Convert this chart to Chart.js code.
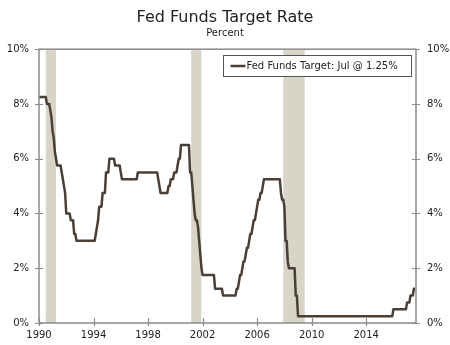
<!DOCTYPE html>
<html>
<head>
<meta charset="utf-8">
<script src="https://cdn.jsdelivr.net/npm/chart.js@4.4.1/dist/chart.umd.min.js"></script>
<style>
  html, body { margin: 0; padding: 0; background: #ffffff; }
  #wrap { width: 450px; height: 345px; }
</style>
</head>
<body>
<div id="wrap"><canvas id="c" width="450" height="345"></canvas></div>
<script>
// ---- Data ----
const seriesLabel = 'Fed Funds Target: Jul @ 1.25%';
// month-end target rate (percent), one value per month starting at firstMonth
const firstMonth = '1989-12';
const monthlyRates = [
  8.25,                                                                   // 1989 Dec
  8.25, 8.25, 8.25, 8.25, 8.25, 8.25, 8.00, 8.00, 8.00, 7.75, 7.50, 7.00, // 1990
  6.75, 6.25, 6.00, 5.75, 5.75, 5.75, 5.75, 5.50, 5.25, 5.00, 4.75, 4.00, // 1991
  4.00, 4.00, 4.00, 3.75, 3.75, 3.75, 3.25, 3.25, 3.00, 3.00, 3.00, 3.00, // 1992
  3.00, 3.00, 3.00, 3.00, 3.00, 3.00, 3.00, 3.00, 3.00, 3.00, 3.00, 3.00, // 1993
  3.00, 3.25, 3.50, 3.75, 4.25, 4.25, 4.25, 4.75, 4.75, 4.75, 5.50, 5.50, // 1994
  5.50, 6.00, 6.00, 6.00, 6.00, 6.00, 5.75, 5.75, 5.75, 5.75, 5.75, 5.50, // 1995
  5.25, 5.25, 5.25, 5.25, 5.25, 5.25, 5.25, 5.25, 5.25, 5.25, 5.25, 5.25, // 1996
  5.25, 5.25, 5.50, 5.50, 5.50, 5.50, 5.50, 5.50, 5.50, 5.50, 5.50, 5.50, // 1997
  5.50, 5.50, 5.50, 5.50, 5.50, 5.50, 5.50, 5.50, 5.25, 5.00, 4.75, 4.75, // 1998
  4.75, 4.75, 4.75, 4.75, 4.75, 5.00, 5.00, 5.25, 5.25, 5.25, 5.50, 5.50, // 1999
  5.50, 5.75, 6.00, 6.00, 6.50, 6.50, 6.50, 6.50, 6.50, 6.50, 6.50, 6.50, // 2000
  5.50, 5.50, 5.00, 4.50, 4.00, 3.75, 3.75, 3.50, 3.00, 2.50, 2.00, 1.75, // 2001
  1.75, 1.75, 1.75, 1.75, 1.75, 1.75, 1.75, 1.75, 1.75, 1.75, 1.25, 1.25, // 2002
  1.25, 1.25, 1.25, 1.25, 1.25, 1.00, 1.00, 1.00, 1.00, 1.00, 1.00, 1.00, // 2003
  1.00, 1.00, 1.00, 1.00, 1.00, 1.25, 1.25, 1.50, 1.75, 1.75, 2.00, 2.25, // 2004
  2.25, 2.50, 2.75, 2.75, 3.00, 3.25, 3.25, 3.50, 3.75, 3.75, 4.00, 4.25, // 2005
  4.50, 4.50, 4.75, 4.75, 5.00, 5.25, 5.25, 5.25, 5.25, 5.25, 5.25, 5.25, // 2006
  5.25, 5.25, 5.25, 5.25, 5.25, 5.25, 5.25, 5.25, 4.75, 4.50, 4.50, 4.25, // 2007
  3.00, 3.00, 2.25, 2.00, 2.00, 2.00, 2.00, 2.00, 2.00, 1.00, 1.00, 0.25, // 2008
  0.25, 0.25, 0.25, 0.25, 0.25, 0.25, 0.25, 0.25, 0.25, 0.25, 0.25, 0.25, // 2009
  0.25, 0.25, 0.25, 0.25, 0.25, 0.25, 0.25, 0.25, 0.25, 0.25, 0.25, 0.25, // 2010
  0.25, 0.25, 0.25, 0.25, 0.25, 0.25, 0.25, 0.25, 0.25, 0.25, 0.25, 0.25, // 2011
  0.25, 0.25, 0.25, 0.25, 0.25, 0.25, 0.25, 0.25, 0.25, 0.25, 0.25, 0.25, // 2012
  0.25, 0.25, 0.25, 0.25, 0.25, 0.25, 0.25, 0.25, 0.25, 0.25, 0.25, 0.25, // 2013
  0.25, 0.25, 0.25, 0.25, 0.25, 0.25, 0.25, 0.25, 0.25, 0.25, 0.25, 0.25, // 2014
  0.25, 0.25, 0.25, 0.25, 0.25, 0.25, 0.25, 0.25, 0.25, 0.25, 0.25, 0.50, // 2015
  0.50, 0.50, 0.50, 0.50, 0.50, 0.50, 0.50, 0.50, 0.50, 0.50, 0.50, 0.75, // 2016
  0.75, 0.75, 1.00, 1.00, 1.00, 1.25, 1.25                                // 2017 Jan-Jul
];
const recessionStarts = ['1990-07-01', '2001-03-01', '2007-12-01'];
const recessionEnds   = ['1991-03-31', '2001-11-30', '2009-06-30'];
const yTickValues = [0, 2, 4, 6, 8, 10];
const xTickYears = [1990, 1994, 1998, 2002, 2006, 2010, 2014];
const xRange = ['1990-01-01', '2017-08-28'];

// ---- helpers ----
function toYear(s) {
  const [y, m, d] = s.split('-').map(Number);
  const start = Date.UTC(y, 0, 1), next = Date.UTC(y + 1, 0, 1);
  return y + (Date.UTC(y, m - 1, d) - start) / (next - start);
}
// month-end position (in fractional years) of the i-th month after firstMonth
function monthEnd(i) {
  const [y0, m0] = firstMonth.split('-').map(Number);
  const total = y0 * 12 + (m0 - 1) + i + 1;  // first day of following month
  return Math.floor(total / 12) + (total % 12) / 12;
}
const points = monthlyRates.map((v, i) => ({ x: monthEnd(i), y: v }));

const FONT = "'DejaVu Sans', Verdana, sans-serif";
const LINE_COLOR = '#4a3f36';
const FRAME_COLOR = '#8a8a8a';
const BAND_COLOR = '#d8d4c8';
const TEXT_COLOR = '#222222';

const recessionPlugin = {
  id: 'recessions',
  beforeDatasetsDraw(chart) {
    const { ctx, chartArea: a, scales: { x } } = chart;
    ctx.save();
    ctx.fillStyle = BAND_COLOR;
    recessionStarts.forEach((s, i) => {
      const x0 = x.getPixelForValue(toYear(s));
      const x1 = x.getPixelForValue(toYear(recessionEnds[i]));
      ctx.fillRect(x0, a.top + 1, x1 - x0, a.bottom - a.top - 1);
    });
    ctx.restore();
  }
};

const framePlugin = {
  id: 'frame',
  afterDatasetsDraw(chart) {
    const { ctx, chartArea: a, scales: { x, y } } = chart;
    ctx.save();
    ctx.strokeStyle = FRAME_COLOR;
    ctx.lineWidth = 1.5;
    ctx.strokeRect(a.left, a.top, a.right - a.left, a.bottom - a.top);
    ctx.lineWidth = 1.2;
    ctx.beginPath();
    yTickValues.forEach(v => {
      const py = Math.round(y.getPixelForValue(v)) + 0.5;
      ctx.moveTo(a.left - 4, py); ctx.lineTo(a.left + 4, py);
      ctx.moveTo(a.right - 4, py); ctx.lineTo(a.right + 4, py);
    });
    xTickYears.forEach(v => {
      const px = Math.round(x.getPixelForValue(v)) + 0.5;
      ctx.moveTo(px, a.bottom - 5); ctx.lineTo(px, a.bottom + 3);
    });
    ctx.stroke();

    // legend box
    const bw = 188, bh = 21;
    const bx = Math.round(a.right - 5 - bw) + 0.5;
    const by = Math.round(a.top + 6) + 0.5;
    ctx.fillStyle = '#ffffff';
    ctx.fillRect(bx, by, bw, bh);
    ctx.strokeStyle = '#555555';
    ctx.lineWidth = 1;
    ctx.strokeRect(bx, by, bw, bh);
    ctx.strokeStyle = LINE_COLOR;
    ctx.lineWidth = 2.5;
    ctx.beginPath();
    ctx.moveTo(bx + 7, by + bh / 2);
    ctx.lineTo(bx + 22, by + bh / 2);
    ctx.stroke();
    ctx.fillStyle = TEXT_COLOR;
    ctx.font = '10px ' + FONT;
    ctx.textBaseline = 'middle';
    ctx.textAlign = 'left';
    ctx.fillText(chart.data.datasets[0].label, bx + 23, by + bh / 2 + 0.5);
    ctx.restore();
  }
};

const pctTick = v => yTickValues.includes(v) ? v + '%' : null;

new Chart(document.getElementById('c'), {
  type: 'line',
  data: {
    datasets: [{
      label: seriesLabel,
      data: points,
      borderColor: LINE_COLOR,
      borderWidth: 2.5,
      pointRadius: 0,
      tension: 0,
      borderJoinStyle: 'round',
      fill: false
    }]
  },
  options: {
    responsive: false,
    devicePixelRatio: 1,
    animation: false,
    layout: { padding: { left: 0, right: 0, top: 0, bottom: 0 } },
    plugins: {
      legend: { display: false },
      tooltip: { enabled: false },
      title: {
        display: true,
        text: 'Fed Funds Target Rate',
        color: TEXT_COLOR,
        font: { family: FONT, size: 16, weight: 'normal', lineHeight: 1.2 },
        padding: { top: 8, bottom: 0 }
      },
      subtitle: {
        display: true,
        text: 'Percent',
        color: TEXT_COLOR,
        font: { family: FONT, size: 10, weight: 'normal', lineHeight: 1.2 },
        padding: { top: 0, bottom: 10 }
      }
    },
    scales: {
      x: {
        type: 'linear',
        min: toYear(xRange[0]),
        max: toYear(xRange[1]),
        grid: { display: true, drawOnChartArea: false, drawTicks: false },
        border: { display: false },
        afterBuildTicks: s => { s.ticks = xTickYears.map(v => ({ value: v })); },
        ticks: {
          autoSkip: false, maxRotation: 0, padding: 6,
          color: TEXT_COLOR, font: { family: FONT, size: 10 },
          callback: v => String(v)
        },
        afterFit: s => { s.height = 22; }
      },
      y: {
        position: 'left',
        min: 0, max: 10,
        grid: { display: true, drawOnChartArea: false, drawTicks: false },
        border: { display: false },
        afterBuildTicks: s => { s.ticks = yTickValues.map(v => ({ value: v })); },
        ticks: {
          padding: 10, color: TEXT_COLOR, font: { family: FONT, size: 10 },
          callback: pctTick
        },
        afterFit: s => { s.width = 39; }
      },
      y2: {
        position: 'right',
        min: 0, max: 10,
        grid: { display: true, drawOnChartArea: false, drawTicks: false },
        border: { display: false },
        afterBuildTicks: s => { s.ticks = yTickValues.map(v => ({ value: v })); },
        ticks: {
          padding: 11, color: TEXT_COLOR, font: { family: FONT, size: 10 },
          callback: pctTick
        },
        afterFit: s => { s.width = 34; }
      }
    }
  },
  plugins: [recessionPlugin, framePlugin]
});
</script>
</body>
</html>
